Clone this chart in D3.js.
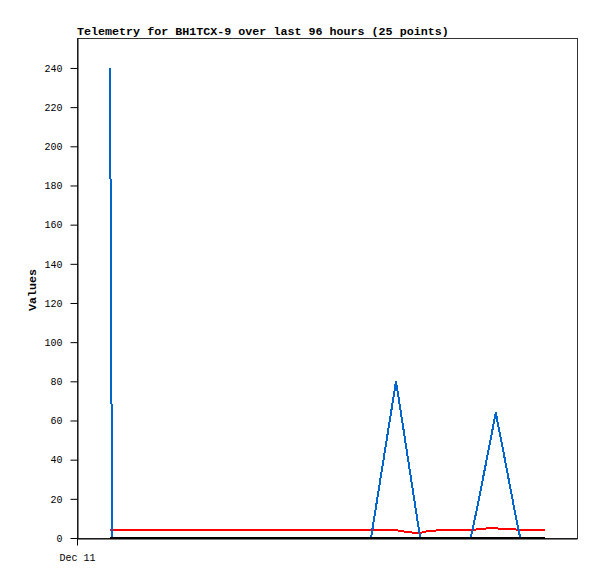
<!DOCTYPE html>
<html>
<head>
<meta charset="utf-8">
<script src="https://cdn.jsdelivr.net/npm/d3@7"></script>
<style>
  body { margin: 0; background: #fff; }
  text { font-family: "Liberation Mono", "DejaVu Sans Mono", monospace; }
</style>
</head>
<body>
<div id="chart"></div>
<script>
var svgWidth = 597;
var svgHeight = 579;

// hours since start of the x axis
var hours = [6.34, 6.74, 12.1, 17.9, 23.6, 29.4, 35.1, 40.9, 46.6, 52.4,
  56.45, 61.25, 62.6, 64.9, 65.9, 67.2, 69.7, 75.6, 76.8, 79.1, 80.4, 81.8, 84.1, 85.1, 89.9];
var blueValues = [240, 0, 0, 0, 0, 0, 0, 0, 0, 0,
  0, 80, 57, 17, 0, 0, 0, 0, 15, 46, 64, 45, 13, 0, 0];
var redValues = [4, 4, 4, 4, 4, 4, 4, 4, 4, 4,
  4, 4, 3.4, 2.6, 2.6, 3.4, 4, 4, 4.4, 5, 5, 4.4, 4.4, 4, 4];
var blackValues = [0, 0, 0, 0, 0, 0, 0, 0, 0, 0,
  0, 0, 0, 0, 0, 0, 0, 0, 0, 0, 0, 0, 0, 0, 0];
var yTicks = [0, 20, 40, 60, 80, 100, 120, 140, 160, 180, 200, 220, 240];
var xTicks = [0];
var xTickLabels = ["Dec 11"];

var plotLeft = 77, plotTop = 38, plotRight = 577, plotBottom = 538;

var svg = d3.select("#chart")
  .append("svg")
  .attr("width", svgWidth)
  .attr("height", svgHeight);

var x = d3.scaleLinear().domain([0, 96]).range([plotLeft, plotRight]);
var y = d3.scaleLinear().domain([0, 255.3]).range([plotBottom, plotTop]);

// frame
svg.append("rect")
  .attr("x", plotLeft + 0.5)
  .attr("y", plotTop + 0.5)
  .attr("width", plotRight - plotLeft)
  .attr("height", plotBottom - plotTop)
  .attr("fill", "none")
  .attr("stroke", "#333")
  .attr("stroke-width", 1);

// y axis
var yAxis = svg.append("g")
  .attr("transform", "translate(" + (plotLeft + 0.5) + ",0)")
  .call(d3.axisLeft(y).tickValues(yTicks).tickSize(7).tickPadding(8).tickSizeOuter(0));
yAxis.select(".domain").attr("stroke", "#000");
yAxis.selectAll(".tick line").attr("stroke", "#000");
yAxis.selectAll("text")
  .style("font-size", "10px")
  .attr("fill", "#000");

// x axis
var xAxis = svg.append("g")
  .attr("transform", "translate(0," + (plotBottom + 0.5) + ")")
  .call(d3.axisBottom(x).tickValues(xTicks)
    .tickFormat(function(d, i) { return xTickLabels[i]; })
    .tickSize(7).tickPadding(8).tickSizeOuter(0));
xAxis.select(".domain").attr("stroke", "#000");
xAxis.selectAll(".tick line").attr("stroke", "#000");
xAxis.selectAll("text")
  .style("font-size", "10px")
  .attr("fill", "#000");

function drawSeries(values, color) {
  var line = d3.line()
    .x(function(d, i) { return x(hours[i]); })
    .y(function(d) { return y(d); });
  svg.append("path")
    .datum(values)
    .attr("d", line)
    .attr("fill", "none")
    .attr("stroke", color)
    .attr("stroke-width", 2)
    .attr("shape-rendering", "crispEdges");
}

drawSeries(redValues, "#ff0000");
drawSeries(blueValues, "#0066cc");
drawSeries(blackValues, "#000000");

// title
svg.append("text")
  .attr("x", plotLeft)
  .attr("y", 35)
  .style("font-size", "11.7px")
  .style("font-weight", "bold")
  .text("Telemetry for BH1TCX-9 over last 96 hours (25 points)");

// y label
svg.append("text")
  .attr("transform", "translate(36," + ((plotTop + plotBottom) / 2 + 2) + ") rotate(-90)")
  .attr("text-anchor", "middle")
  .style("font-size", "11.7px")
  .style("font-weight", "bold")
  .text("Values");
</script>
</body>
</html>
